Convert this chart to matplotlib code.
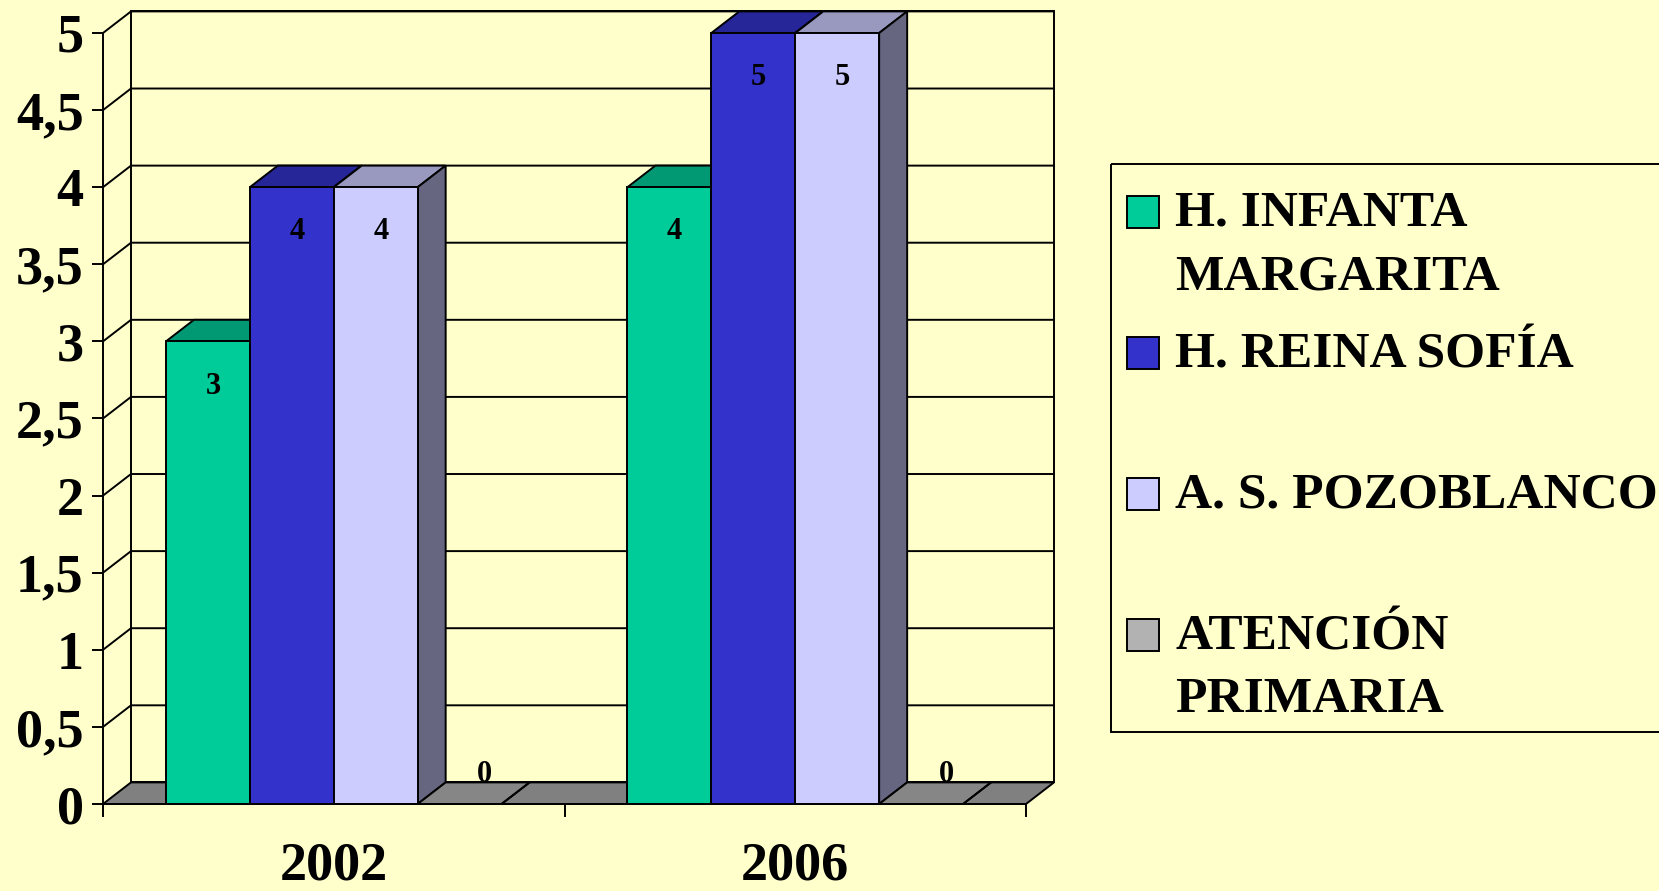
import matplotlib.pyplot as plt
from matplotlib.patches import Polygon, Rectangle
from matplotlib.ticker import FuncFormatter, MultipleLocator

# Datos
categorias = ['2002', '2006']
series = ['H. INFANTA\nMARGARITA', 'H. REINA SOFÍA', 'A. S. POZOBLANCO', 'ATENCIÓN\nPRIMARIA']
infanta_margarita = [3, 4]
reina_sofia = [4, 5]
pozoblanco = [4, 5]
atencion_primaria = [0, 0]
valores = [infanta_margarita, reina_sofia, pozoblanco, atencion_primaria]

# Colores (frente, arriba, lado)
frente = ['#00CC99', '#3333CC', '#CCCCFF', '#B2B2B2']
arriba = ['#009973', '#262699', '#9999BF', '#868686']
lado = ['#00664D', '#1A1A66', '#666680', '#595959']
fondo = '#FFFFCC'

plt.rcParams['font.family'] = 'Liberation Serif'
plt.rcParams['font.weight'] = 'bold'

fig = plt.figure(figsize=(16.59, 8.91), dpi=100, facecolor=fondo)
ax = fig.add_axes([103 / 1659, 87 / 891, 923 / 1659, 771 / 891])
ax.set_facecolor('none')
ax.set_xlim(0, len(categorias))
ax.set_ylim(0, 5)

dx = 28 / 461.5   # profundidad 3D en unidades de categoria
dy = 0.14         # profundidad 3D en unidades de valor
lw = 1.4
n = len(categorias)

# Pared del fondo y suelo
ax.add_patch(Polygon([(dx, dy), (n + dx, dy), (n + dx, 5 + dy), (dx, 5 + dy)],
                     closed=True, facecolor=fondo, edgecolor='black', lw=lw, clip_on=False, zorder=1))
for t in [0.5 * k for k in range(1, 11)]:
    ax.plot([0, dx, n + dx], [t, t + dy, t + dy], color='black', lw=lw, clip_on=False, zorder=1.5)
ax.add_patch(Polygon([(0, 0), (n, 0), (n + dx, dy), (dx, dy)], closed=True,
                     facecolor='#808080', edgecolor='black', lw=lw, clip_on=False, zorder=2))

# Barras 3D
w = 1 / 5.5
z = 3
for i in range(n):
    for j, vals in enumerate(valores):
        v = vals[i]
        x0 = i + 0.75 / 5.5 + j * w
        ax.add_patch(Polygon([(x0, v), (x0 + w, v), (x0 + w + dx, v + dy), (x0 + dx, v + dy)],
                             closed=True, facecolor=arriba[j], edgecolor='black', lw=lw, clip_on=False, zorder=z))
        ax.add_patch(Polygon([(x0 + w, 0), (x0 + w + dx, dy), (x0 + w + dx, v + dy), (x0 + w, v)],
                             closed=True, facecolor=lado[j], edgecolor='black', lw=lw, clip_on=False, zorder=z))
        ax.add_patch(Rectangle((x0, 0), w, v, facecolor=frente[j], edgecolor='black', lw=lw,
                               clip_on=False, zorder=z))
        if v > 0:
            ax.text(x0 + w / 2 + 0.011, v - 0.29, str(v), ha='center', va='center',
                    fontsize=22, fontweight='bold', zorder=20)
        else:
            ax.text(x0 + w / 2 + dx * 0.9, 0.1, str(v), ha='center', va='bottom',
                    fontsize=22, fontweight='bold', zorder=20)
        z += 1

# Ejes
for s in ['top', 'right']:
    ax.spines[s].set_visible(False)
ax.spines['left'].set_linewidth(lw)
ax.spines['bottom'].set_linewidth(lw)
ax.spines['left'].set_zorder(30)
ax.spines['bottom'].set_zorder(30)
ax.yaxis.set_major_locator(MultipleLocator(0.5))
ax.yaxis.set_major_formatter(FuncFormatter(lambda v, p: f'{v:g}'.replace('.', ',')))
ax.tick_params(axis='y', direction='out', length=8, width=lw, pad=6, labelsize=39)
ax.set_xticks(range(n + 1))
ax.set_xticklabels([])
ax.set_xticks([i + 0.5 for i in range(n)], minor=True)
ax.set_xticklabels(categorias, minor=True)
ax.tick_params(axis='x', which='major', direction='out', length=9, width=lw)
ax.tick_params(axis='x', which='minor', length=0, pad=27, labelsize=39)

# Leyenda
lg = fig.add_axes([0, 0, 1, 1])
lg.set_xlim(0, 1659)
lg.set_ylim(891, 0)
lg.axis('off')
lg.patch.set_visible(False)
lg.add_patch(Rectangle((1111, 164), 600, 568, facecolor='none', edgecolor='black', lw=lw))
for k, nombre in enumerate(series):
    yk = 212 + 141 * k
    lg.add_patch(Rectangle((1127, yk - 16), 32, 32, facecolor=frente[k], edgecolor='black', lw=lw))
    lg.text(1175, yk - 21, nombre, ha='left', va='top', fontsize=37, fontweight='bold',
            linespacing=1.5)

plt.savefig('out.png', dpi=100, facecolor=fondo)
